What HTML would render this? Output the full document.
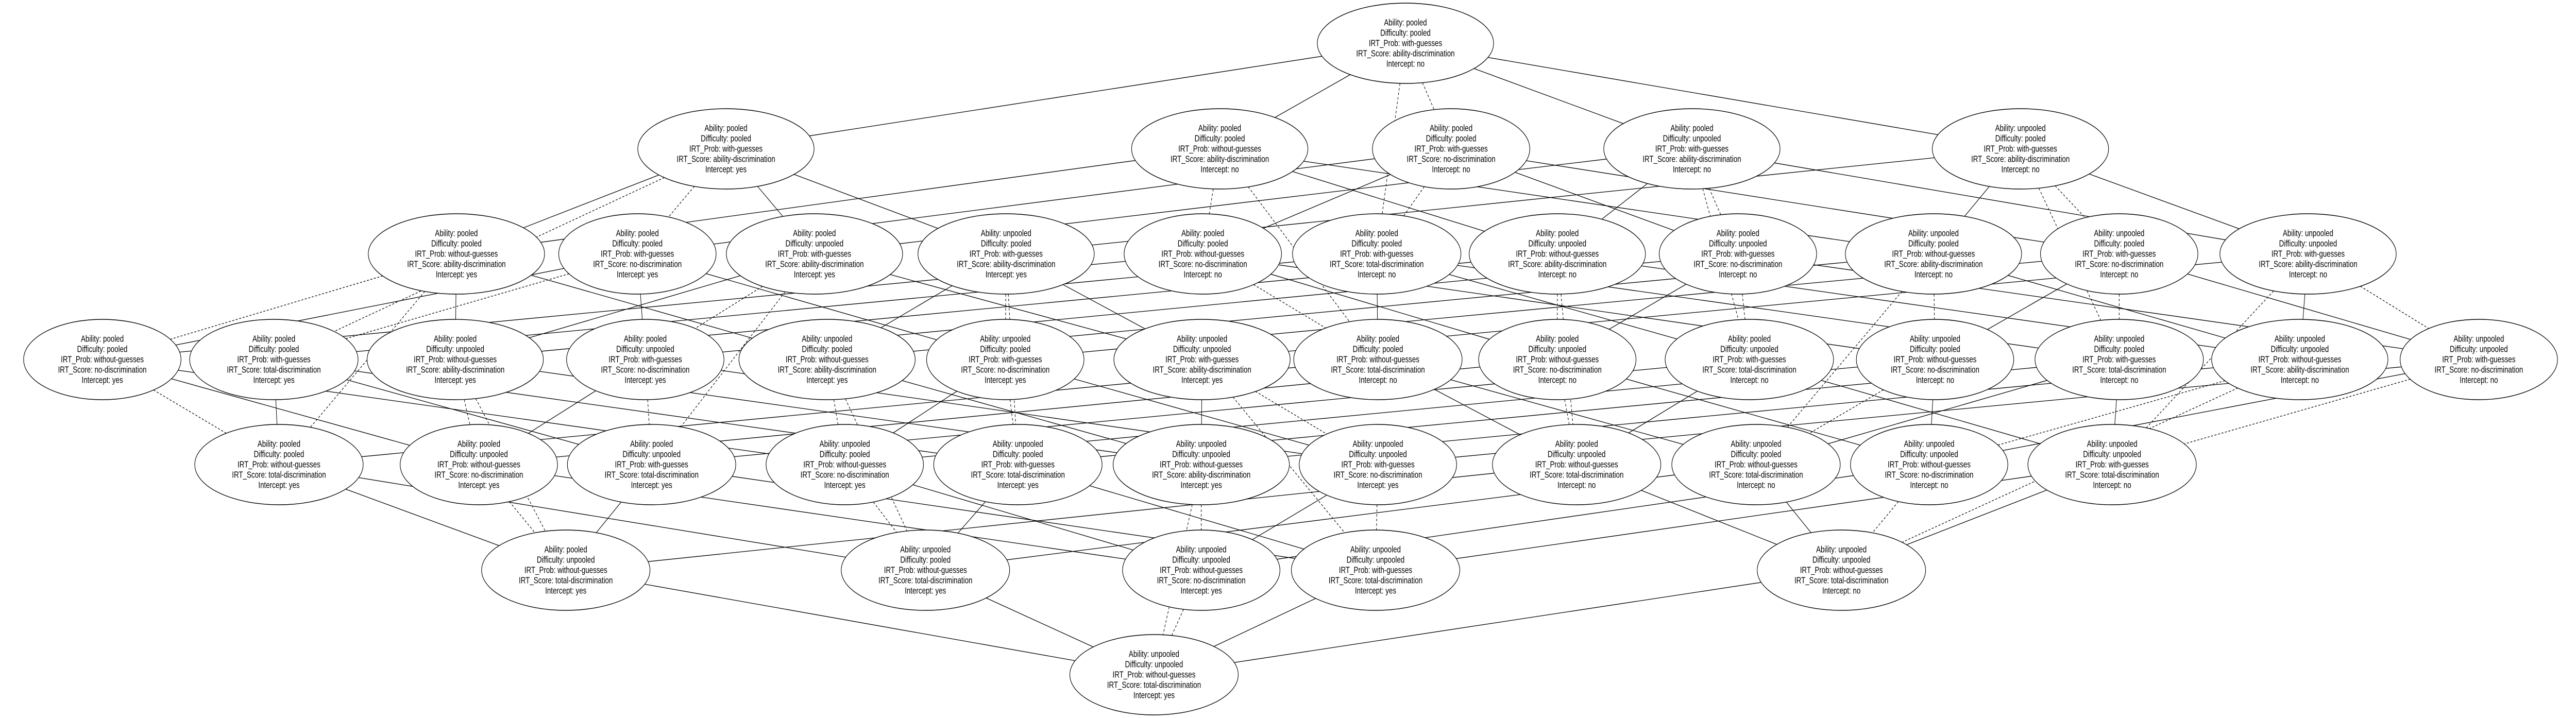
<!DOCTYPE html>
<html><head><meta charset="utf-8">
<style>
html,body{margin:0;padding:0;background:#fff;width:100%;height:100%;overflow:hidden;}
svg{display:block;width:100vw;height:100vh;}
text{font-family:"Liberation Sans",sans-serif;font-size:17.5px;text-anchor:middle;dominant-baseline:central;fill:#000;}
ellipse{fill:#fff;stroke:#000;stroke-width:1.4;}
#edges line{stroke:#000;stroke-width:1.3;fill:none;}
#edges line.d{stroke-dasharray:5,4;}
</style></head><body>
<svg id="s" width="100%" height="100%" viewBox="0 0 6547 1394" preserveAspectRatio="none" xmlns="http://www.w3.org/2000/svg">
<g id="edges"></g>
<g id="nodes">
<g transform="translate(3572,84)"><ellipse rx="224" ry="78"/><text><tspan x="0" y="-40">Ability: pooled</tspan><tspan x="0" y="-20">Difficulty: pooled</tspan><tspan x="0" y="0">IRT_Prob: with-guesses</tspan><tspan x="0" y="20">IRT_Score: ability-discrimination</tspan><tspan x="0" y="40">Intercept: no</tspan></text></g>
<g transform="translate(1845,289)"><ellipse rx="224" ry="78"/><text><tspan x="0" y="-40">Ability: pooled</tspan><tspan x="0" y="-20">Difficulty: pooled</tspan><tspan x="0" y="0">IRT_Prob: with-guesses</tspan><tspan x="0" y="20">IRT_Score: ability-discrimination</tspan><tspan x="0" y="40">Intercept: yes</tspan></text></g>
<g transform="translate(3100,289)"><ellipse rx="224" ry="78"/><text><tspan x="0" y="-40">Ability: pooled</tspan><tspan x="0" y="-20">Difficulty: pooled</tspan><tspan x="0" y="0">IRT_Prob: without-guesses</tspan><tspan x="0" y="20">IRT_Score: ability-discrimination</tspan><tspan x="0" y="40">Intercept: no</tspan></text></g>
<g transform="translate(3688,289)"><ellipse rx="200" ry="78"/><text><tspan x="0" y="-40">Ability: pooled</tspan><tspan x="0" y="-20">Difficulty: pooled</tspan><tspan x="0" y="0">IRT_Prob: with-guesses</tspan><tspan x="0" y="20">IRT_Score: no-discrimination</tspan><tspan x="0" y="40">Intercept: no</tspan></text></g>
<g transform="translate(4300,289)"><ellipse rx="224" ry="78"/><text><tspan x="0" y="-40">Ability: pooled</tspan><tspan x="0" y="-20">Difficulty: unpooled</tspan><tspan x="0" y="0">IRT_Prob: with-guesses</tspan><tspan x="0" y="20">IRT_Score: ability-discrimination</tspan><tspan x="0" y="40">Intercept: no</tspan></text></g>
<g transform="translate(5135,289)"><ellipse rx="224" ry="78"/><text><tspan x="0" y="-40">Ability: unpooled</tspan><tspan x="0" y="-20">Difficulty: pooled</tspan><tspan x="0" y="0">IRT_Prob: with-guesses</tspan><tspan x="0" y="20">IRT_Score: ability-discrimination</tspan><tspan x="0" y="40">Intercept: no</tspan></text></g>
<g transform="translate(1160,493)"><ellipse rx="224" ry="78"/><text><tspan x="0" y="-40">Ability: pooled</tspan><tspan x="0" y="-20">Difficulty: pooled</tspan><tspan x="0" y="0">IRT_Prob: without-guesses</tspan><tspan x="0" y="20">IRT_Score: ability-discrimination</tspan><tspan x="0" y="40">Intercept: yes</tspan></text></g>
<g transform="translate(1620,493)"><ellipse rx="200" ry="78"/><text><tspan x="0" y="-40">Ability: pooled</tspan><tspan x="0" y="-20">Difficulty: pooled</tspan><tspan x="0" y="0">IRT_Prob: with-guesses</tspan><tspan x="0" y="20">IRT_Score: no-discrimination</tspan><tspan x="0" y="40">Intercept: yes</tspan></text></g>
<g transform="translate(2070,493)"><ellipse rx="224" ry="78"/><text><tspan x="0" y="-40">Ability: pooled</tspan><tspan x="0" y="-20">Difficulty: unpooled</tspan><tspan x="0" y="0">IRT_Prob: with-guesses</tspan><tspan x="0" y="20">IRT_Score: ability-discrimination</tspan><tspan x="0" y="40">Intercept: yes</tspan></text></g>
<g transform="translate(2557,493)"><ellipse rx="224" ry="78"/><text><tspan x="0" y="-40">Ability: unpooled</tspan><tspan x="0" y="-20">Difficulty: pooled</tspan><tspan x="0" y="0">IRT_Prob: with-guesses</tspan><tspan x="0" y="20">IRT_Score: ability-discrimination</tspan><tspan x="0" y="40">Intercept: yes</tspan></text></g>
<g transform="translate(3057,493)"><ellipse rx="200" ry="78"/><text><tspan x="0" y="-40">Ability: pooled</tspan><tspan x="0" y="-20">Difficulty: pooled</tspan><tspan x="0" y="0">IRT_Prob: without-guesses</tspan><tspan x="0" y="20">IRT_Score: no-discrimination</tspan><tspan x="0" y="40">Intercept: no</tspan></text></g>
<g transform="translate(3499,493)"><ellipse rx="214" ry="78"/><text><tspan x="0" y="-40">Ability: pooled</tspan><tspan x="0" y="-20">Difficulty: pooled</tspan><tspan x="0" y="0">IRT_Prob: with-guesses</tspan><tspan x="0" y="20">IRT_Score: total-discrimination</tspan><tspan x="0" y="40">Intercept: no</tspan></text></g>
<g transform="translate(3958,493)"><ellipse rx="224" ry="78"/><text><tspan x="0" y="-40">Ability: pooled</tspan><tspan x="0" y="-20">Difficulty: unpooled</tspan><tspan x="0" y="0">IRT_Prob: without-guesses</tspan><tspan x="0" y="20">IRT_Score: ability-discrimination</tspan><tspan x="0" y="40">Intercept: no</tspan></text></g>
<g transform="translate(4417,493)"><ellipse rx="200" ry="78"/><text><tspan x="0" y="-40">Ability: pooled</tspan><tspan x="0" y="-20">Difficulty: unpooled</tspan><tspan x="0" y="0">IRT_Prob: with-guesses</tspan><tspan x="0" y="20">IRT_Score: no-discrimination</tspan><tspan x="0" y="40">Intercept: no</tspan></text></g>
<g transform="translate(4914,493)"><ellipse rx="224" ry="78"/><text><tspan x="0" y="-40">Ability: unpooled</tspan><tspan x="0" y="-20">Difficulty: pooled</tspan><tspan x="0" y="0">IRT_Prob: without-guesses</tspan><tspan x="0" y="20">IRT_Score: ability-discrimination</tspan><tspan x="0" y="40">Intercept: no</tspan></text></g>
<g transform="translate(5386,493)"><ellipse rx="200" ry="78"/><text><tspan x="0" y="-40">Ability: unpooled</tspan><tspan x="0" y="-20">Difficulty: pooled</tspan><tspan x="0" y="0">IRT_Prob: with-guesses</tspan><tspan x="0" y="20">IRT_Score: no-discrimination</tspan><tspan x="0" y="40">Intercept: no</tspan></text></g>
<g transform="translate(5866,493)"><ellipse rx="224" ry="78"/><text><tspan x="0" y="-40">Ability: unpooled</tspan><tspan x="0" y="-20">Difficulty: unpooled</tspan><tspan x="0" y="0">IRT_Prob: with-guesses</tspan><tspan x="0" y="20">IRT_Score: ability-discrimination</tspan><tspan x="0" y="40">Intercept: no</tspan></text></g>
<g transform="translate(260,698)"><ellipse rx="200" ry="78"/><text><tspan x="0" y="-40">Ability: pooled</tspan><tspan x="0" y="-20">Difficulty: pooled</tspan><tspan x="0" y="0">IRT_Prob: without-guesses</tspan><tspan x="0" y="20">IRT_Score: no-discrimination</tspan><tspan x="0" y="40">Intercept: yes</tspan></text></g>
<g transform="translate(696,698)"><ellipse rx="214" ry="78"/><text><tspan x="0" y="-40">Ability: pooled</tspan><tspan x="0" y="-20">Difficulty: pooled</tspan><tspan x="0" y="0">IRT_Prob: with-guesses</tspan><tspan x="0" y="20">IRT_Score: total-discrimination</tspan><tspan x="0" y="40">Intercept: yes</tspan></text></g>
<g transform="translate(1157,698)"><ellipse rx="224" ry="78"/><text><tspan x="0" y="-40">Ability: pooled</tspan><tspan x="0" y="-20">Difficulty: unpooled</tspan><tspan x="0" y="0">IRT_Prob: without-guesses</tspan><tspan x="0" y="20">IRT_Score: ability-discrimination</tspan><tspan x="0" y="40">Intercept: yes</tspan></text></g>
<g transform="translate(1640,698)"><ellipse rx="200" ry="78"/><text><tspan x="0" y="-40">Ability: pooled</tspan><tspan x="0" y="-20">Difficulty: unpooled</tspan><tspan x="0" y="0">IRT_Prob: with-guesses</tspan><tspan x="0" y="20">IRT_Score: no-discrimination</tspan><tspan x="0" y="40">Intercept: yes</tspan></text></g>
<g transform="translate(2102,698)"><ellipse rx="224" ry="78"/><text><tspan x="0" y="-40">Ability: unpooled</tspan><tspan x="0" y="-20">Difficulty: pooled</tspan><tspan x="0" y="0">IRT_Prob: without-guesses</tspan><tspan x="0" y="20">IRT_Score: ability-discrimination</tspan><tspan x="0" y="40">Intercept: yes</tspan></text></g>
<g transform="translate(2555,698)"><ellipse rx="200" ry="78"/><text><tspan x="0" y="-40">Ability: unpooled</tspan><tspan x="0" y="-20">Difficulty: pooled</tspan><tspan x="0" y="0">IRT_Prob: with-guesses</tspan><tspan x="0" y="20">IRT_Score: no-discrimination</tspan><tspan x="0" y="40">Intercept: yes</tspan></text></g>
<g transform="translate(3055,698)"><ellipse rx="224" ry="78"/><text><tspan x="0" y="-40">Ability: unpooled</tspan><tspan x="0" y="-20">Difficulty: unpooled</tspan><tspan x="0" y="0">IRT_Prob: with-guesses</tspan><tspan x="0" y="20">IRT_Score: ability-discrimination</tspan><tspan x="0" y="40">Intercept: yes</tspan></text></g>
<g transform="translate(3502,698)"><ellipse rx="214" ry="78"/><text><tspan x="0" y="-40">Ability: pooled</tspan><tspan x="0" y="-20">Difficulty: pooled</tspan><tspan x="0" y="0">IRT_Prob: without-guesses</tspan><tspan x="0" y="20">IRT_Score: total-discrimination</tspan><tspan x="0" y="40">Intercept: no</tspan></text></g>
<g transform="translate(3958,698)"><ellipse rx="200" ry="78"/><text><tspan x="0" y="-40">Ability: pooled</tspan><tspan x="0" y="-20">Difficulty: unpooled</tspan><tspan x="0" y="0">IRT_Prob: without-guesses</tspan><tspan x="0" y="20">IRT_Score: no-discrimination</tspan><tspan x="0" y="40">Intercept: no</tspan></text></g>
<g transform="translate(4446,698)"><ellipse rx="214" ry="78"/><text><tspan x="0" y="-40">Ability: pooled</tspan><tspan x="0" y="-20">Difficulty: unpooled</tspan><tspan x="0" y="0">IRT_Prob: with-guesses</tspan><tspan x="0" y="20">IRT_Score: total-discrimination</tspan><tspan x="0" y="40">Intercept: no</tspan></text></g>
<g transform="translate(4918,698)"><ellipse rx="200" ry="78"/><text><tspan x="0" y="-40">Ability: unpooled</tspan><tspan x="0" y="-20">Difficulty: pooled</tspan><tspan x="0" y="0">IRT_Prob: without-guesses</tspan><tspan x="0" y="20">IRT_Score: no-discrimination</tspan><tspan x="0" y="40">Intercept: no</tspan></text></g>
<g transform="translate(5386,698)"><ellipse rx="214" ry="78"/><text><tspan x="0" y="-40">Ability: unpooled</tspan><tspan x="0" y="-20">Difficulty: pooled</tspan><tspan x="0" y="0">IRT_Prob: with-guesses</tspan><tspan x="0" y="20">IRT_Score: total-discrimination</tspan><tspan x="0" y="40">Intercept: no</tspan></text></g>
<g transform="translate(5845,698)"><ellipse rx="224" ry="78"/><text><tspan x="0" y="-40">Ability: unpooled</tspan><tspan x="0" y="-20">Difficulty: unpooled</tspan><tspan x="0" y="0">IRT_Prob: without-guesses</tspan><tspan x="0" y="20">IRT_Score: ability-discrimination</tspan><tspan x="0" y="40">Intercept: no</tspan></text></g>
<g transform="translate(6300,698)"><ellipse rx="200" ry="78"/><text><tspan x="0" y="-40">Ability: unpooled</tspan><tspan x="0" y="-20">Difficulty: unpooled</tspan><tspan x="0" y="0">IRT_Prob: with-guesses</tspan><tspan x="0" y="20">IRT_Score: no-discrimination</tspan><tspan x="0" y="40">Intercept: no</tspan></text></g>
<g transform="translate(709,902)"><ellipse rx="214" ry="78"/><text><tspan x="0" y="-40">Ability: pooled</tspan><tspan x="0" y="-20">Difficulty: pooled</tspan><tspan x="0" y="0">IRT_Prob: without-guesses</tspan><tspan x="0" y="20">IRT_Score: total-discrimination</tspan><tspan x="0" y="40">Intercept: yes</tspan></text></g>
<g transform="translate(1217,902)"><ellipse rx="200" ry="78"/><text><tspan x="0" y="-40">Ability: pooled</tspan><tspan x="0" y="-20">Difficulty: unpooled</tspan><tspan x="0" y="0">IRT_Prob: without-guesses</tspan><tspan x="0" y="20">IRT_Score: no-discrimination</tspan><tspan x="0" y="40">Intercept: yes</tspan></text></g>
<g transform="translate(1656,902)"><ellipse rx="214" ry="78"/><text><tspan x="0" y="-40">Ability: pooled</tspan><tspan x="0" y="-20">Difficulty: unpooled</tspan><tspan x="0" y="0">IRT_Prob: with-guesses</tspan><tspan x="0" y="20">IRT_Score: total-discrimination</tspan><tspan x="0" y="40">Intercept: yes</tspan></text></g>
<g transform="translate(2147,902)"><ellipse rx="200" ry="78"/><text><tspan x="0" y="-40">Ability: unpooled</tspan><tspan x="0" y="-20">Difficulty: pooled</tspan><tspan x="0" y="0">IRT_Prob: without-guesses</tspan><tspan x="0" y="20">IRT_Score: no-discrimination</tspan><tspan x="0" y="40">Intercept: yes</tspan></text></g>
<g transform="translate(2587,902)"><ellipse rx="214" ry="78"/><text><tspan x="0" y="-40">Ability: unpooled</tspan><tspan x="0" y="-20">Difficulty: pooled</tspan><tspan x="0" y="0">IRT_Prob: with-guesses</tspan><tspan x="0" y="20">IRT_Score: total-discrimination</tspan><tspan x="0" y="40">Intercept: yes</tspan></text></g>
<g transform="translate(3053,902)"><ellipse rx="224" ry="78"/><text><tspan x="0" y="-40">Ability: unpooled</tspan><tspan x="0" y="-20">Difficulty: unpooled</tspan><tspan x="0" y="0">IRT_Prob: without-guesses</tspan><tspan x="0" y="20">IRT_Score: ability-discrimination</tspan><tspan x="0" y="40">Intercept: yes</tspan></text></g>
<g transform="translate(3502,902)"><ellipse rx="200" ry="78"/><text><tspan x="0" y="-40">Ability: unpooled</tspan><tspan x="0" y="-20">Difficulty: unpooled</tspan><tspan x="0" y="0">IRT_Prob: with-guesses</tspan><tspan x="0" y="20">IRT_Score: no-discrimination</tspan><tspan x="0" y="40">Intercept: yes</tspan></text></g>
<g transform="translate(4007,902)"><ellipse rx="214" ry="78"/><text><tspan x="0" y="-40">Ability: pooled</tspan><tspan x="0" y="-20">Difficulty: unpooled</tspan><tspan x="0" y="0">IRT_Prob: without-guesses</tspan><tspan x="0" y="20">IRT_Score: total-discrimination</tspan><tspan x="0" y="40">Intercept: no</tspan></text></g>
<g transform="translate(4463,902)"><ellipse rx="214" ry="78"/><text><tspan x="0" y="-40">Ability: unpooled</tspan><tspan x="0" y="-20">Difficulty: pooled</tspan><tspan x="0" y="0">IRT_Prob: without-guesses</tspan><tspan x="0" y="20">IRT_Score: total-discrimination</tspan><tspan x="0" y="40">Intercept: no</tspan></text></g>
<g transform="translate(4903,902)"><ellipse rx="200" ry="78"/><text><tspan x="0" y="-40">Ability: unpooled</tspan><tspan x="0" y="-20">Difficulty: unpooled</tspan><tspan x="0" y="0">IRT_Prob: without-guesses</tspan><tspan x="0" y="20">IRT_Score: no-discrimination</tspan><tspan x="0" y="40">Intercept: no</tspan></text></g>
<g transform="translate(5368,902)"><ellipse rx="214" ry="78"/><text><tspan x="0" y="-40">Ability: unpooled</tspan><tspan x="0" y="-20">Difficulty: unpooled</tspan><tspan x="0" y="0">IRT_Prob: with-guesses</tspan><tspan x="0" y="20">IRT_Score: total-discrimination</tspan><tspan x="0" y="40">Intercept: no</tspan></text></g>
<g transform="translate(1438,1107)"><ellipse rx="214" ry="78"/><text><tspan x="0" y="-40">Ability: pooled</tspan><tspan x="0" y="-20">Difficulty: unpooled</tspan><tspan x="0" y="0">IRT_Prob: without-guesses</tspan><tspan x="0" y="20">IRT_Score: total-discrimination</tspan><tspan x="0" y="40">Intercept: yes</tspan></text></g>
<g transform="translate(2352,1107)"><ellipse rx="214" ry="78"/><text><tspan x="0" y="-40">Ability: unpooled</tspan><tspan x="0" y="-20">Difficulty: pooled</tspan><tspan x="0" y="0">IRT_Prob: without-guesses</tspan><tspan x="0" y="20">IRT_Score: total-discrimination</tspan><tspan x="0" y="40">Intercept: yes</tspan></text></g>
<g transform="translate(3053,1107)"><ellipse rx="200" ry="78"/><text><tspan x="0" y="-40">Ability: unpooled</tspan><tspan x="0" y="-20">Difficulty: unpooled</tspan><tspan x="0" y="0">IRT_Prob: without-guesses</tspan><tspan x="0" y="20">IRT_Score: no-discrimination</tspan><tspan x="0" y="40">Intercept: yes</tspan></text></g>
<g transform="translate(3496,1107)"><ellipse rx="214" ry="78"/><text><tspan x="0" y="-40">Ability: unpooled</tspan><tspan x="0" y="-20">Difficulty: unpooled</tspan><tspan x="0" y="0">IRT_Prob: with-guesses</tspan><tspan x="0" y="20">IRT_Score: total-discrimination</tspan><tspan x="0" y="40">Intercept: yes</tspan></text></g>
<g transform="translate(4680,1107)"><ellipse rx="214" ry="78"/><text><tspan x="0" y="-40">Ability: unpooled</tspan><tspan x="0" y="-20">Difficulty: unpooled</tspan><tspan x="0" y="0">IRT_Prob: without-guesses</tspan><tspan x="0" y="20">IRT_Score: total-discrimination</tspan><tspan x="0" y="40">Intercept: no</tspan></text></g>
<g transform="translate(2933,1310)"><ellipse rx="214" ry="78"/><text><tspan x="0" y="-40">Ability: unpooled</tspan><tspan x="0" y="-20">Difficulty: unpooled</tspan><tspan x="0" y="0">IRT_Prob: without-guesses</tspan><tspan x="0" y="20">IRT_Score: total-discrimination</tspan><tspan x="0" y="40">Intercept: yes</tspan></text></g>
</g>
</svg>
<script>
(function(){
var N=[
["ppwan",3572,84,224],
["ppway",1845,289,224],["ppoan",3100,289,224],["ppwnn",3688,289,200],["puwan",4300,289,224],["upwan",5135,289,224],
["ppoay",1160,493,224],["ppwny",1620,493,200],["puway",2070,493,224],["upway",2557,493,224],["pponn",3057,493,200],["ppwtn",3499,493,214],["puoan",3958,493,224],["puwnn",4417,493,200],["upoan",4914,493,224],["upwnn",5386,493,200],["uuwan",5866,493,224],
["ppony",260,698,200],["ppwty",696,698,214],["puoay",1157,698,224],["puwny",1640,698,200],["upoay",2102,698,224],["upwny",2555,698,200],["uuway",3055,698,224],["ppotn",3502,698,214],["puonn",3958,698,200],["puwtn",4446,698,214],["uponn",4918,698,200],["upwtn",5386,698,214],["uuoan",5845,698,224],["uuwnn",6300,698,200],
["ppoty",709,902,214],["puony",1217,902,200],["puwty",1656,902,214],["upony",2147,902,200],["upwty",2587,902,214],["uuoay",3053,902,224],["uuwny",3502,902,200],["puotn",4007,902,214],["upotn",4463,902,214],["uuonn",4903,902,200],["uuwtn",5368,902,214],
["puoty",1438,1107,214],["upoty",2352,1107,214],["uuony",3053,1107,200],["uuwty",3496,1107,214],["uuotn",4680,1107,214],
["uuoty",2933,1310,214]];
var g=document.getElementById("edges"),ns="http://www.w3.org/2000/svg",RY=78;
function bp(n,tx,ty){var dx=tx-n[1],dy=ty-n[2];var t=1/Math.sqrt(dx*dx/(n[3]*n[3])+dy*dy/(RY*RY));return [n[1]+dx*t,n[2]+dy*t];}
for(var i=0;i<N.length;i++)for(var j=i+1;j<N.length;j++){
 var a=N[i][0],b=N[j][0],diff=[];
 for(var k=0;k<5;k++)if(a[k]!==b[k])diff.push(k);
 if(diff.length!==1)continue;
 var p1=bp(N[i],N[j][1],N[j][2]),p2=bp(N[j],N[i][1],N[i][2]);
 var l=document.createElementNS(ns,"line");
 l.setAttribute("x1",p1[0]);l.setAttribute("y1",p1[1]);l.setAttribute("x2",p2[0]);l.setAttribute("y2",p2[1]);
 if(diff[0]===3)l.setAttribute("class","d");
 g.appendChild(l);
}
})();
</script>
</body></html>
